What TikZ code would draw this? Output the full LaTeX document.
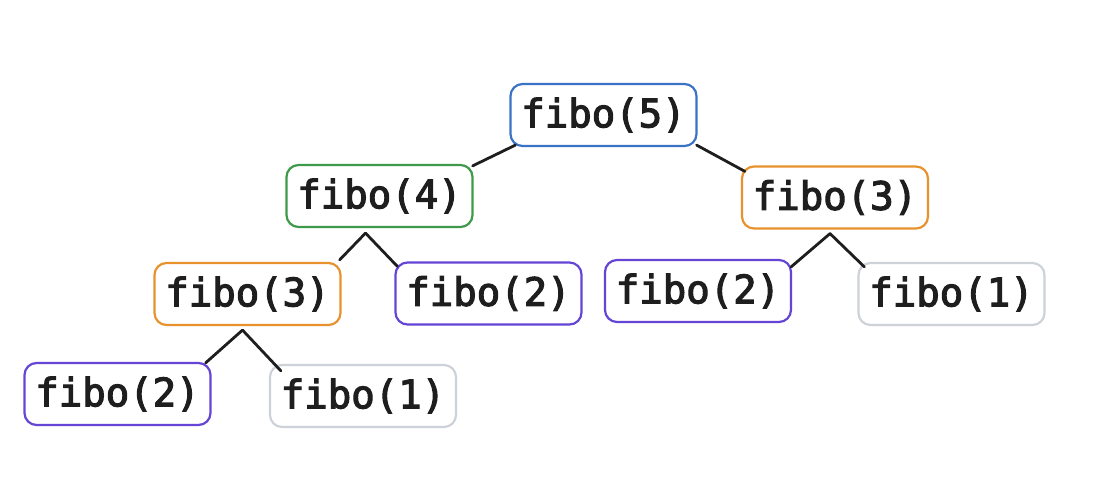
\documentclass[tikz,border=0pt]{standalone}
\usepackage{fontspec}
\newfontfamily\callfont[FakeBold=3]{DejaVu Sans Mono}

\definecolor{ink}{HTML}{1E1E1E}
\definecolor{callblue}{HTML}{3A73C6}
\definecolor{callgreen}{HTML}{3C9A48}
\definecolor{callorange}{HTML}{E8922E}
\definecolor{callpurple}{HTML}{6445D6}
\definecolor{callgray}{HTML}{CDD2D9}

\tikzstyle{call} = [rectangle, rounded corners=12pt, minimum width=186pt, minimum height=62pt, inner sep=0pt, text centered, line width=2.2pt, fill=white, text=ink, font=\callfont\fontsize{39}{39}\selectfont]
\tikzstyle{top} = [call, draw=callblue]
\tikzstyle{big} = [call, draw=callgreen]
\tikzstyle{mid} = [call, draw=callorange]
\tikzstyle{small} = [call, draw=callpurple]
\tikzstyle{leaf} = [call, draw=callgray]
\tikzstyle{link} = [line width=2.8pt, draw=ink, line cap=round]

\begin{document}
\begin{tikzpicture}[x=1pt, y=-1pt]
	\useasboundingbox (0,0) rectangle (1094,486);

	\node (fib5)  [top]   at (603.5,115) {fibo(5)};
	\node (fib4)  [big]   at (379.5,196) {fibo(4)};
	\node (fib3r) [mid]   at (835,197.5) {fibo(3)};
	\node (fib3l) [mid]   at (247.5,294) {fibo(3)};
	\node (fib2m) [small] at (488.5,293.5) {fibo(2)};
	\node (fib2r) [small] at (698,291) {fibo(2)};
	\node (fib1r) [leaf]  at (951.5,294) {fibo(1)};
	\node (fib2l) [small] at (117.5,394) {fibo(2)};
	\node (fib1l) [leaf]  at (363,396) {fibo(1)};

	\coordinate (split4)  at ([xshift=-14pt,yshift=-5pt]fib4.south);
	\coordinate (split3l) at ([xshift=-5pt,yshift=-4pt]fib3l.south);
	\coordinate (split3r) at ([xshift=-5pt,yshift=-4pt]fib3r.south);

	\draw[link] ([xshift=6pt,yshift=2pt]fib5.south west) -- ([xshift=-1pt,yshift=-2pt]fib4.north east);
	\draw[link] ([xshift=-1pt,yshift=2pt]fib5.south east) -- ([xshift=4pt,yshift=-6pt]fib3r.north west);

	\draw[link] (split4) -- ([xshift=-2pt,yshift=2pt]fib3l.north east);
	\draw[link] (split4) -- ([xshift=3pt,yshift=-5pt]fib2m.north west);
	\draw[link] (split3l) -- ([xshift=-6pt,yshift=-1pt]fib2l.north east);
	\draw[link] (split3l) -- ([xshift=12pt,yshift=-7pt]fib1l.north west);
	\draw[link] (split3r) -- ([xshift=-1pt,yshift=-8pt]fib2r.north east);
	\draw[link] (split3r) -- ([xshift=7pt,yshift=-5pt]fib1r.north west);
\end{tikzpicture}
\end{document}
